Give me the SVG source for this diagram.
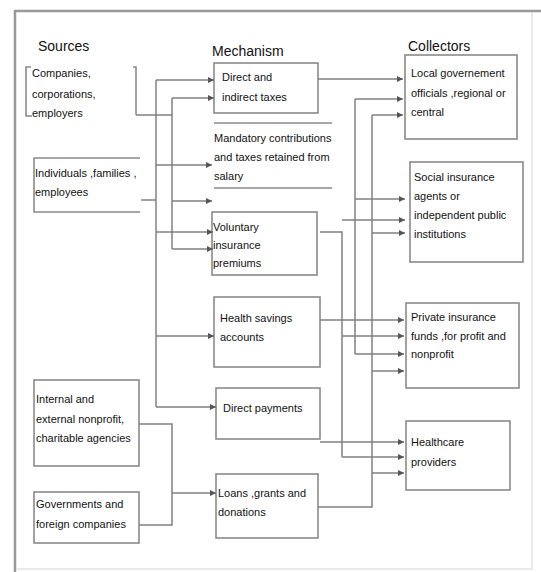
<svg xmlns="http://www.w3.org/2000/svg" width="541" height="572" viewBox="0 0 541 572">
<defs>
<marker id="ah" viewBox="0 0 6 6" refX="6" refY="3" markerWidth="6" markerHeight="6" markerUnits="userSpaceOnUse" orient="auto">
<path d="M0,0 L6,3 L0,6 Z" fill="#555"/>
</marker>
<style>
.t{font-family:"Liberation Sans",Arial,sans-serif;font-size:11px;fill:#111}
.h{font-family:"Liberation Sans",Arial,sans-serif;font-size:14px;fill:#111}
.box{fill:none;stroke:#8a8a8a;stroke-width:1.6}
.ln{fill:none;stroke:#808080;stroke-width:1.5}
.ar{fill:none;stroke:#808080;stroke-width:1.5;marker-end:url(#ah)}
.frame{fill:none;stroke:#999;stroke-width:2.5}
</style>
</defs>
<rect width="541" height="572" fill="#fff"/>
<g id="frame">
<path class="frame" d="M15,572 V11 H541"/>
<path d="M532,12 V569 H16" fill="none" stroke="#e2e2e2" stroke-width="1.5"/>
</g>
<g id="headers">
<text class="h" x="38" y="51">Sources</text>
<text class="h" x="212" y="56">Mechanism</text>
<text class="h" x="408" y="51">Collectors</text>
</g>
<g id="src-companies">
<path class="box" d="M31,67 H26 V116 H32 M133,67 H136 V115"/>
<text class="t" x="32" y="77">Companies,</text>
<text class="t" x="32" y="98">corporations,</text>
<text class="t" x="32" y="117">employers</text>
</g>
<g id="src-individuals">
<path class="box" d="M140,158 H34 V212 H140"/>
<text class="t" x="35" y="177">Individuals ,families ,</text>
<text class="t" x="35" y="196">employees</text>
</g>
<g id="src-internal">
<rect class="box" x="34" y="380" width="105" height="86"/>
<text class="t" x="36" y="403">Internal and</text>
<text class="t" x="36" y="423">external nonprofit,</text>
<text class="t" x="36" y="442">charitable agencies</text>
</g>
<g id="src-governments">
<rect class="box" x="34" y="492" width="105" height="51"/>
<text class="t" x="36" y="508">Governments and</text>
<text class="t" x="36" y="528">foreign companies</text>
</g>
<g id="mech-taxes">
<rect class="box" x="214" y="63" width="104" height="50"/>
<text class="t" x="222" y="81">Direct and</text>
<text class="t" x="222" y="101">indirect taxes</text>
</g>
<g id="mech-mandatory">
<path class="box" d="M214,123 H332 M214,188 H332"/>
<text class="t" x="214" y="142">Mandatory contributions</text>
<text class="t" x="214" y="161">and taxes retained from</text>
<text class="t" x="214" y="180">salary</text>
</g>
<g id="mech-voluntary">
<rect class="box" x="212" y="212" width="105" height="63"/>
<text class="t" x="213" y="231">Voluntary</text>
<text class="t" x="213" y="249">insurance</text>
<text class="t" x="213" y="267">premiums</text>
</g>
<g id="mech-hsa">
<rect class="box" x="214" y="297" width="106" height="70"/>
<text class="t" x="220" y="322">Health savings</text>
<text class="t" x="220" y="341">accounts</text>
</g>
<g id="mech-direct">
<rect class="box" x="216" y="388" width="104" height="51"/>
<text class="t" x="223" y="412">Direct payments</text>
</g>
<g id="mech-loans">
<rect class="box" x="216" y="474" width="102" height="64"/>
<text class="t" x="218" y="497">Loans ,grants and</text>
<text class="t" x="218" y="516">donations</text>
</g>
<g id="col-local">
<rect class="box" x="405" y="55" width="112" height="84"/>
<text class="t" x="411" y="77">Local governement</text>
<text class="t" x="411" y="97">officials ,regional or</text>
<text class="t" x="411" y="116">central</text>
</g>
<g id="col-social">
<rect class="box" x="410" y="162" width="113" height="100"/>
<text class="t" x="414" y="181">Social insurance</text>
<text class="t" x="414" y="200">agents or</text>
<text class="t" x="414" y="219">independent public</text>
<text class="t" x="414" y="238">institutions</text>
</g>
<g id="col-private">
<rect class="box" x="406" y="303" width="113" height="85"/>
<text class="t" x="411" y="321">Private insurance</text>
<text class="t" x="411" y="340">funds ,for profit and</text>
<text class="t" x="411" y="358">nonprofit</text>
</g>
<g id="col-providers">
<rect class="box" x="406" y="421" width="104" height="69"/>
<text class="t" x="411" y="446">Healthcare</text>
<text class="t" x="411" y="466">providers</text>
</g>
<g id="connectors">
<path class="ln" d="M136,115 H172"/>
<path class="ln" d="M141,200 H156"/>
<path class="ln" d="M156,80 V407"/>
<path class="ln" d="M172,98 V249"/>
<path class="ln" d="M139,424 H172 V525 H139"/>
<path class="ar" d="M156,80 H214"/>
<path class="ar" d="M172,98 H214"/>
<path class="ar" d="M156,165 H212"/>
<path class="ar" d="M172,201 H212"/>
<path class="ar" d="M156,232 H213"/>
<path class="ar" d="M172,249 H213"/>
<path class="ar" d="M156,336 H214"/>
<path class="ar" d="M156,407 H216"/>
<path class="ar" d="M172,493 H216"/>
<path class="ar" d="M318,79 H403"/>
<path class="ln" d="M355,99 V354"/>
<path class="ar" d="M355,99 H403"/>
<path class="ar" d="M355,199 H405"/>
<path class="ar" d="M355,354 H404"/>
<path class="ln" d="M318,507 H372 V115"/>
<path class="ar" d="M372,115 H403"/>
<path class="ar" d="M372,233 H405"/>
<path class="ar" d="M372,371 H404"/>
<path class="ar" d="M372,473 H404"/>
<path class="ln" d="M320,232 H342 V457"/>
<path class="ar" d="M342,220 H405"/>
<path class="ar" d="M342,336 H404"/>
<path class="ar" d="M342,457 H404"/>
<path class="ar" d="M320,320 H404"/>
<path class="ar" d="M320,442 H404"/>
</g>
</svg>
